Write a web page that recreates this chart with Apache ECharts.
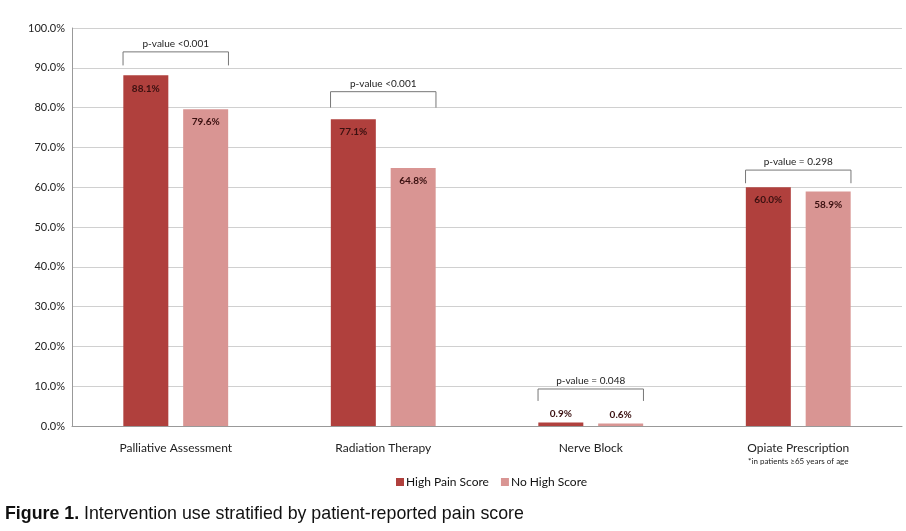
<!DOCTYPE html>
<html><head><meta charset="utf-8">
<script src="https://cdn.jsdelivr.net/npm/echarts@6/dist/echarts.min.js"></script>
<style>html,body{margin:0;padding:0;background:#fff}#c{width:906px;height:531px}</style>
</head><body><div id="c"></div>
<script>
const categories = ['Palliative Assessment', 'Radiation Therapy', 'Nerve Block', 'Opiate Prescription'];
const highPain = [88.1, 77.1, 0.9, 60.0];
const noHigh = [79.6, 64.8, 0.6, 58.9];
const pLabels = ['p-value <0.001', 'p-value <0.001', 'p-value = 0.048', 'p-value = 0.298'];
const bracketTop = [94.0, 84.0, 9.3, 64.3];
const bracketTick = [90.6, 80.0, 6.3, 61.0];
const yTicks = [0, 10, 20, 30, 40, 50, 60, 70, 80, 90, 100];
const footnote = '*in patients ≥65 years of age';
const caption = ['Figure 1.', ' Intervention use stratified by patient-reported pain score'];

const FONT = 'Lato';
const chart = echarts.init(document.getElementById('c'));
const labelFor = (v, i) => ({
  value: v,
  label: { position: i === 2 ? 'top' : 'insideTop', distance: i === 2 ? 4 : 8 }
});
chart.setOption({
  animation: false,
  textStyle: { fontFamily: FONT },
  grid: { left: 72, right: 4, top: 28, bottom: 105 },
  legend: {
    data: ['High Pain Score', 'No High Score'],
    left: 391, top: 471, itemWidth: 8, itemHeight: 8, itemGap: 12,
    icon: 'rect',
    textStyle: { fontFamily: FONT, fontSize: 12, color: '#111', padding: [0, 0, 0, -3] }
  },
  xAxis: {
    type: 'category', data: categories,
    axisTick: { show: false },
    axisLine: { lineStyle: { color: '#999', width: 1 } },
    axisLabel: {
      interval: 0, margin: 14, color: '#222', fontSize: 12, fontFamily: FONT,
      formatter: (v) => v === 'Opiate Prescription' ? '{a|' + v + '}\n{b|' + footnote + '}' : '{a|' + v + '}',
      rich: {
        a: { fontSize: 12, color: '#222', fontFamily: FONT, lineHeight: 16 },
        b: { fontSize: 8, color: '#222', fontFamily: FONT, lineHeight: 10 }
      }
    }
  },
  yAxis: {
    type: 'value', min: 0, max: 100, interval: 10,
    axisLine: { show: true, lineStyle: { color: '#999' } },
    axisTick: { show: false },
    splitLine: { lineStyle: { color: '#d0d0d0' } },
    axisLabel: { color: '#222', fontSize: 11, fontFamily: FONT, margin: 7,
      formatter: (v) => v.toFixed(1) + '%' }
  },
  series: [
    {
      name: 'High Pain Score', type: 'bar', barWidth: 45, barGap: '33%',
      itemStyle: { color: '#b0403d' },
      label: { show: true, color: '#3a1010', fontSize: 10, fontFamily: FONT, fontWeight: 'bold',
        formatter: (p) => p.value.toFixed(1) + '%' },
      data: highPain.map(labelFor)
    },
    {
      name: 'No High Score', type: 'bar', barWidth: 45,
      itemStyle: { color: '#d99593' },
      label: { show: true, color: '#3a1010', fontSize: 10, fontFamily: FONT, fontWeight: 'bold',
        formatter: (p) => p.value.toFixed(1) + '%' },
      data: noHigh.map(labelFor)
    },
    {
      type: 'custom', silent: true, z: 5,
      data: categories.map((c, i) => [i, bracketTop[i], bracketTick[i]]),
      renderItem: (params, api) => {
        const i = api.value(0);
        const top = api.coord([i, api.value(1)]);
        const tick = api.coord([i, api.value(2)]);
        const bw = api.size([1, 0])[0];
        const hw = bw * 0.254;
        const cx = top[0];
        return {
          type: 'group',
          children: [
            { type: 'polyline', shape: { points: [[cx - hw, tick[1]], [cx - hw, top[1]], [cx + hw, top[1]], [cx + hw, tick[1]]] },
              style: { stroke: '#777', lineWidth: 1, fill: null } },
            { type: 'text', style: { text: pLabels[i], x: cx, y: top[1] - 3, textAlign: 'center', textVerticalAlign: 'bottom',
              fontSize: 10, fontFamily: FONT, fill: '#222' } }
          ]
        };
      }
    }
  ],
  graphic: [
    { type: 'text', left: 5, top: 505, style: {
      text: '{b|' + caption[0] + '}{n|' + caption[1] + '}',
      rich: {
        b: { fontSize: 17.8, fontWeight: 'bold', fontFamily: 'Liberation Sans', fill: '#111' },
        n: { fontSize: 17.8, fontFamily: 'Liberation Sans', fill: '#111' }
      } } }
  ]
});
</script></body></html>
